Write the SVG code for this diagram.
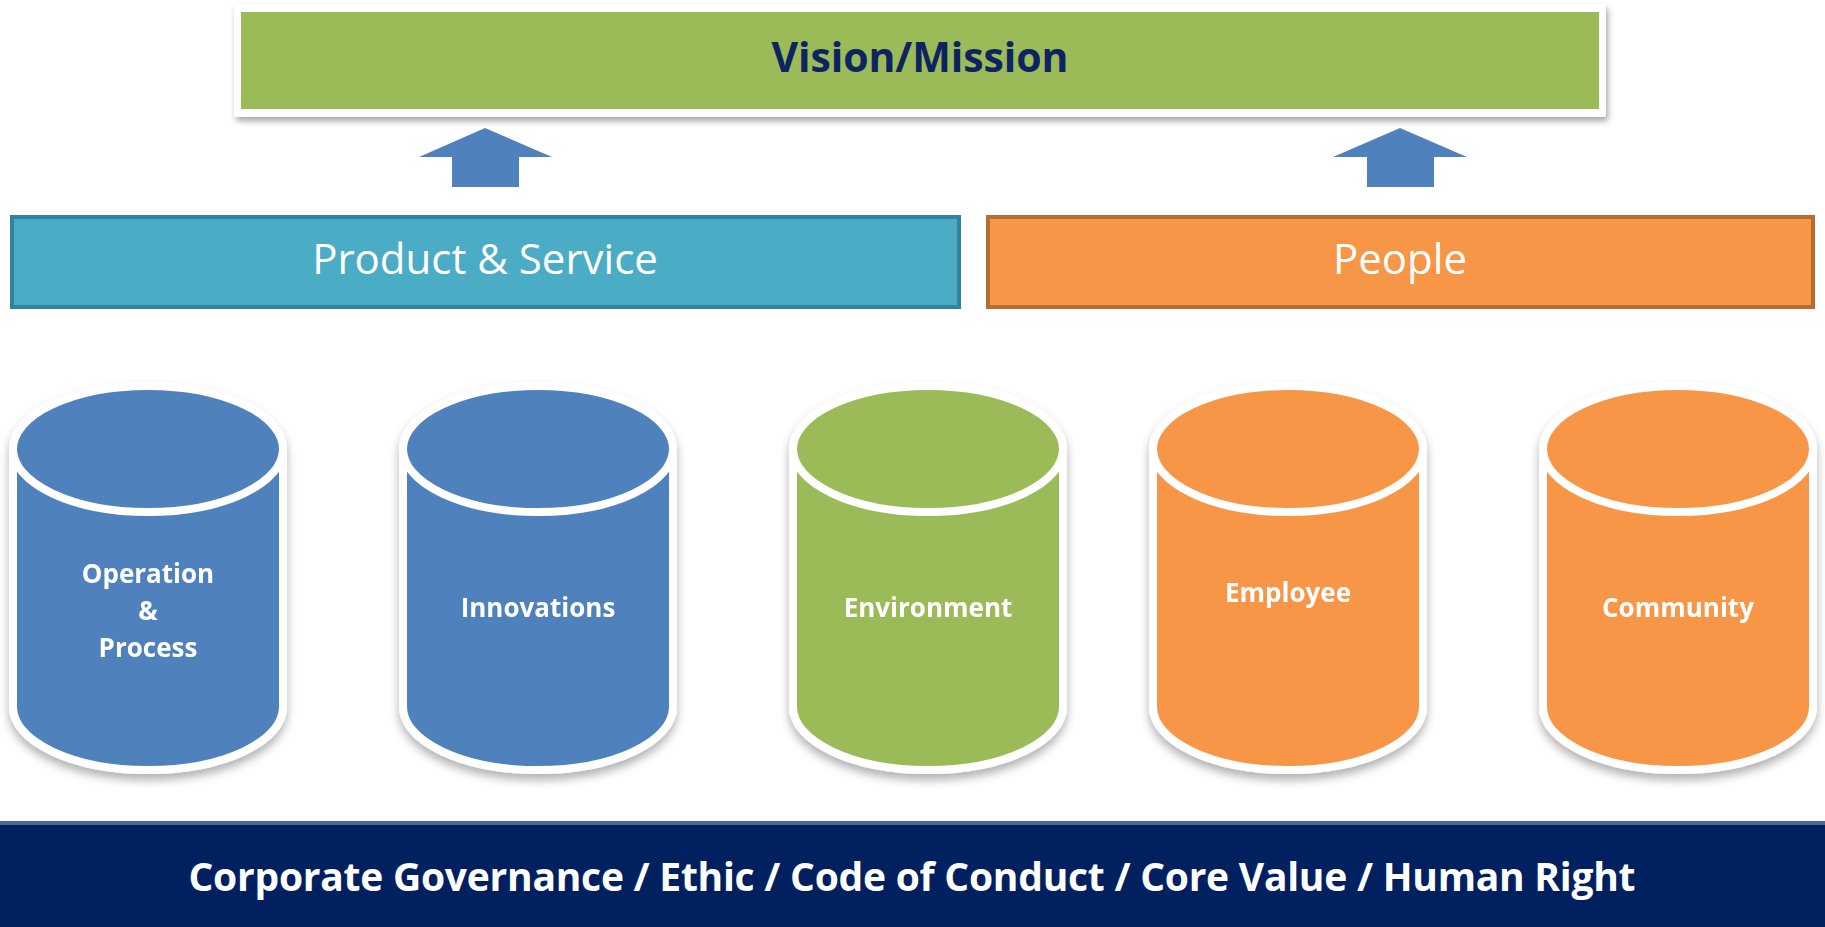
<svg xmlns="http://www.w3.org/2000/svg" width="1825" height="927" viewBox="0 0 1825 927">
<defs>
<filter id="sh" x="-10%" y="-10%" width="120%" height="130%">
<feDropShadow dx="2" dy="4" stdDeviation="3" flood-color="#000" flood-opacity="0.35"/>
</filter>
<filter id="csh" x="-10%" y="-10%" width="120%" height="125%">
<feDropShadow dx="0" dy="6" stdDeviation="5" flood-color="#000" flood-opacity="0.3"/>
</filter>
</defs>
<style>
.lbl{font-family:"Open Sans","Liberation Sans",sans-serif;font-weight:bold;fill:#fff;font-size:26px;text-anchor:middle}
.bar{font-family:"Open Sans","Liberation Sans",sans-serif;fill:#fff;font-size:42px;text-anchor:middle}
.cyl{stroke:#fff;stroke-width:8}
.blue{fill:#4F81BD}.green{fill:#9BBB59}.orange{fill:#F79646}
.arrow{fill:#4F81BD}
</style>
<rect x="0" y="0" width="1825" height="927" fill="#fff"/>

<g id="vision">
<rect x="234" y="4" width="1372" height="113" rx="3" fill="#fff" filter="url(#sh)"/>
<rect x="241" y="12" width="1358" height="97" fill="#9BBB59"/>
<text x="920" y="72" font-family="'Open Sans','Liberation Sans',sans-serif" font-weight="bold" font-size="41" fill="#0E2361" text-anchor="middle" textLength="297">Vision/Mission</text>
</g>

<g id="connectors">
<polygon class="arrow" points="485,128 552,157 519,157 519,187 452,187 452,157 419,157"/>
<polygon class="arrow" points="1400,128 1467,157 1434,157 1434,187 1367,187 1367,157 1333,157"/>
</g>

<g id="product-service">
<rect x="12" y="217" width="947" height="90" fill="#4BACC6" stroke="#31849B" stroke-width="4"/>
<text class="bar" x="485" y="274">Product &amp; Service</text>
</g>

<g id="people">
<rect x="988" y="217" width="825" height="90" fill="#F79646" stroke="#B66D31" stroke-width="4"/>
<text class="bar" x="1400" y="274">People</text>
</g>

<g id="cyl-operation" filter="url(#csh)">
<path class="cyl blue" d="M13,449 V707 A135 63 0 0 0 283,707 V449 Z"/>
<ellipse class="cyl blue" cx="148" cy="449" rx="135" ry="63"/>
<text class="lbl" x="148" y="583">Operation</text>
<text class="lbl" x="148" y="620">&amp;</text>
<text class="lbl" x="148" y="657">Process</text>
</g>

<g id="cyl-innovations" filter="url(#csh)">
<path class="cyl blue" d="M403,449 V707 A135 63 0 0 0 673,707 V449 Z"/>
<ellipse class="cyl blue" cx="538" cy="449" rx="135" ry="63"/>
<text class="lbl" x="538" y="617">Innovations</text>
</g>

<g id="cyl-environment" filter="url(#csh)">
<path class="cyl green" d="M793,449 V707 A135 63 0 0 0 1063,707 V449 Z"/>
<ellipse class="cyl green" cx="928" cy="449" rx="135" ry="63"/>
<text class="lbl" x="928" y="617">Environment</text>
</g>

<g id="cyl-employee" filter="url(#csh)">
<path class="cyl orange" d="M1153,449 V707 A135 63 0 0 0 1423,707 V449 Z"/>
<ellipse class="cyl orange" cx="1288" cy="449" rx="135" ry="63"/>
<text class="lbl" x="1288" y="602">Employee</text>
</g>

<g id="cyl-community" filter="url(#csh)">
<path class="cyl orange" d="M1543,449 V707 A135 63 0 0 0 1813,707 V449 Z"/>
<ellipse class="cyl orange" cx="1678" cy="449" rx="135" ry="63"/>
<text class="lbl" x="1678" y="617">Community</text>
</g>

<g id="foundation">
<rect x="0" y="821" width="1825" height="106" fill="#00205F"/>
<rect x="0" y="821" width="1825" height="4" fill="#4A6894"/>
<text x="912" y="891" font-family="'Open Sans','Liberation Sans',sans-serif" font-weight="bold" font-size="39" fill="#fff" text-anchor="middle" textLength="1447">Corporate Governance / Ethic / Code of Conduct / Core Value / Human Right</text>
</g>
</svg>
